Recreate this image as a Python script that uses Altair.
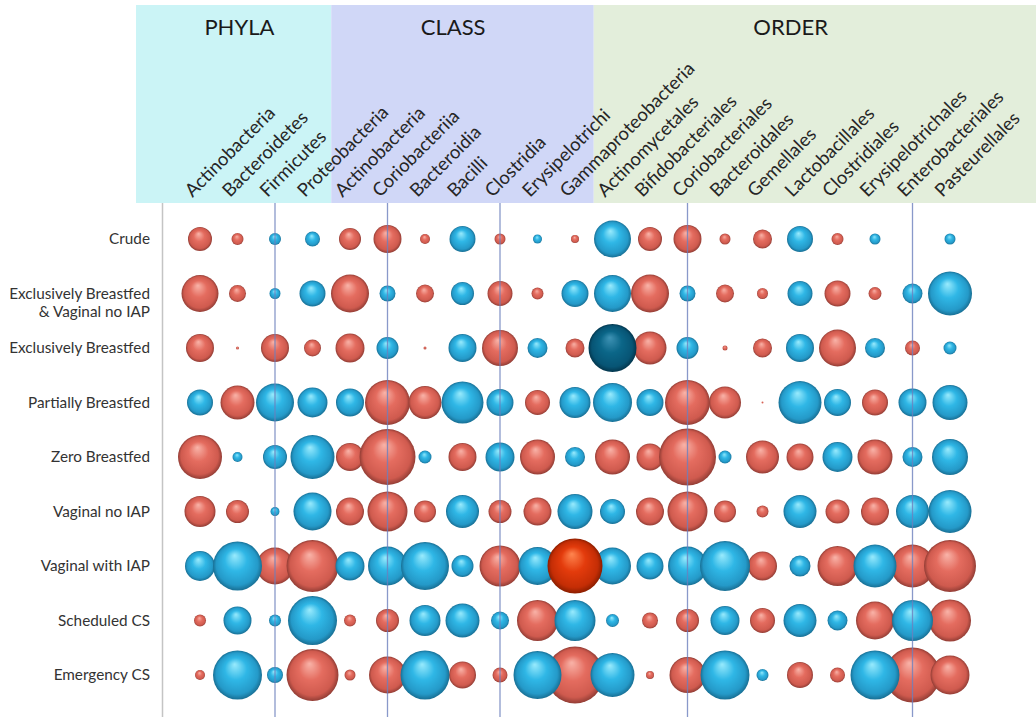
import altair as alt
import pandas as pd

# ---------------- data ----------------
rank_names = ["PHYLA", "CLASS", "ORDER"]
rank_counts = [4, 7, 10]

taxa = [
    "Actinobacteria", "Bacteroidetes", "Firmicutes", "Proteobacteria",
    "Actinobacteria", "Coriobacteriia", "Bacteroidia", "Bacilli", "Clostridia",
    "Erysipelotrichi", "Gammaproteobacteria",
    "Actinomycetales", "Bifidobacteriales", "Coriobacteriales", "Bacteroidales",
    "Gemellales", "Lactobacillales", "Clostridiales", "Erysipelotrichales",
    "Enterobacteriales", "Pasteurellales",
]

row_labels = [
    "Crude",
    "Exclusively Breastfed\n& Vaginal no IAP",
    "Exclusively Breastfed",
    "Partially Breastfed",
    "Zero Breastfed",
    "Vaginal no IAP",
    "Vaginal with IAP",
    "Scheduled CS",
    "Emergency CS",
]

# signed bubble magnitudes: positive = red (higher), negative = blue (lower), 0 = no bubble
crude   = [24, 12, -12, -15, 22, 28, 10, -26, 11, -9, 8, -37, 24, 28, 11, 19, -26, 12, -11, 0, -11]
ebf_vag = [37, 17, -11, -26, 38, -16, 18, -23, 25, 12, -27, -37, 38, -16, 18, 11, -25, 26, 13, -20, -44]
ebf     = [28, 3, 28, 17, 29, -22, 3, -28, 36, -20, 19, -48, 33, -22, 5, 19, -28, 37, -20, 15, -13]
partial = [-26, 34, -38, -30, -28, 45, 33, -42, -27, 25, -31, -39, -27, 45, 32, 2, -43, -27, 26, -28, -35]
zero_bf = [44, -10, -24, -44, 28, 56, -13, 28, -29, 35, -20, 35, 27, 57, -13, 33, 27, -30, 35, -20, -36]
vag_no  = [31, 23, -9, -38, 28, 40, 22, -33, 23, 28, -35, -25, 28, 40, 22, 12, -33, 24, 28, -33, -43]
vag_iap = [-30, -49, 37, 52, -29, -39, -48, -22, 41, -38, 55, -37, -27, -39, -50, 29, -21, 40, -43, 43, 52]
sched   = [12, -28, -12, -49, 12, 23, -31, -34, -18, 41, -41, -13, 16, 23, -29, 25, -33, -20, 38, -41, 42]
emerg   = [10, -49, -16, 52, 11, 37, -49, 27, 15, -48, 57, -44, 8, 36, -49, -12, 26, 15, -49, 55, 39]
values = [crude, ebf_vag, ebf, partial, zero_bf, vag_no, vag_iap, sched, emerg]

# highlighted cells (row index, column number)
highlights = {(2, 12): "dark", (6, 11): "bright"}

# vertical reference lines (column numbers); 0 is the left edge
grid_cols = [3, 6, 9, 14, 20]

# ---------------- layout ----------------
X_LO, X_HI = -0.7067, 23.2933
Y_LO, Y_HI = -4.2936, 8.7706
title_at = [2.05, 7.75, 16.75]
FONT = "Lato"

xs = alt.Scale(domain=[X_LO, X_HI], nice=False, zero=False)
ys = alt.Scale(domain=[Y_LO, Y_HI], nice=False, zero=False, reverse=True)


def sphere(light, base, mid, dark):
    return {
        "gradient": "radial",
        "x1": 0.44, "y1": 0.28, "r1": 0.0,
        "x2": 0.5, "y2": 0.5, "r2": 0.5,
        "stops": [
            {"offset": 0.0, "color": light},
            {"offset": 0.45, "color": base},
            {"offset": 0.85, "color": mid},
            {"offset": 1.0, "color": dark},
        ],
    }


G_RED = sphere("#f9b4a9", "#e46c5f", "#cf5a4e", "#923d35")
G_BLUE = sphere("#9aebfd", "#2fb7e6", "#2499c8", "#186f94")
G_DARK = sphere("#3f93b5", "#0b6688", "#075474", "#03364d")
G_BRIGHT = sphere("#ff8650", "#e33b0c", "#c42d05", "#8a1e00")

# ---------------- tables ----------------
recs = []
for r, vals in enumerate(values):
    for c, v in enumerate(vals, start=1):
        if v == 0:
            continue
        kind = "pos" if v > 0 else "neg"
        kind = highlights.get((r, c), kind)
        layer = {"pos": 0, "neg": 1}.get(kind, 2)
        recs.append({"row": r, "col": c, "mag": abs(v), "kind": kind,
                     "draw": layer * 100 + c})
bubbles_df = pd.DataFrame(recs)

starts, ends, first = [], [], 1
for n in rank_counts:
    starts.append(first - 0.5)
    ends.append(first + n - 0.5)
    first += n
starts[0] = X_LO
ends[-1] = X_HI
bands_df = pd.DataFrame({"rank": rank_names, "x0": starts, "x1": ends, "tx": title_at})

taxa_df = pd.DataFrame({"col": list(range(1, len(taxa) + 1)), "name": taxa})
taxa_df["lx"] = taxa_df["col"] - 0.2

rows_df = pd.DataFrame({"row": list(range(len(row_labels))), "label": row_labels})
grid_df = pd.DataFrame({"col": grid_cols})
edge_df = pd.DataFrame({"col": [0]})

# ---------------- layers ----------------
bands = alt.Chart(bands_df).mark_rect().encode(
    x=alt.X("x0:Q", scale=xs, axis=None),
    x2="x1:Q",
    y=alt.value(0),
    y2=alt.value(198),
    fill=alt.Fill("rank:N", scale=alt.Scale(domain=rank_names,
                  range=["#cbf4f6", "#d0d7f7", "#e3eedb"]), legend=None),
)

titles = alt.Chart(bands_df).mark_text(
    font=FONT, fontSize=22, color="#1a1a1a", baseline="middle", align="center"
).encode(x=alt.X("tx:Q", scale=xs, axis=None), y=alt.value(23), text="rank:N")

col_labels = alt.Chart(taxa_df).mark_text(
    font=FONT, fontSize=18.5, color="#262626", angle=315, align="left",
    baseline="alphabetic"
).encode(x=alt.X("lx:Q", scale=xs, axis=None), y=alt.value(193), text="name:N")

edge = alt.Chart(edge_df).mark_rule(color="#c4c4c4", strokeWidth=1.5).encode(
    x=alt.X("col:Q", scale=xs, axis=None), y=alt.value(198), y2=alt.value(712)
)

fill_def = {
    "condition": [
        {"test": "datum.kind === 'pos'", "value": G_RED},
        {"test": "datum.kind === 'dark'", "value": G_DARK},
        {"test": "datum.kind === 'bright'", "value": G_BRIGHT},
    ],
    "value": G_BLUE,
}

bubbles = alt.Chart(bubbles_df).mark_circle(opacity=1, strokeWidth=0).encode(
    x=alt.X("col:Q", scale=xs, axis=None),
    y=alt.Y("row:Q", scale=ys, axis=None),
    size=alt.Size("mag:Q", scale=alt.Scale(type="pow", exponent=2, domain=[0, 60],
                  range=[0, 3600]), legend=None),
    fill=fill_def,
    order=alt.Order("draw:Q"),
)

grid = alt.Chart(grid_df).mark_rule(color="#6c7fbd", strokeWidth=1.3, opacity=0.8).encode(
    x=alt.X("col:Q", scale=xs, axis=None), y=alt.value(198), y2=alt.value(712)
)

row_text = alt.Chart(rows_df).mark_text(
    font=FONT, fontSize=15.3, color="#333333", align="right", baseline="middle",
    lineBreak="\n", lineHeight=18
).encode(x=alt.value(14), y=alt.Y("row:Q", scale=ys, axis=None), text="label:N")

chart = alt.layer(bands, titles, col_labels, edge, bubbles, grid, row_text).properties(
    width=900, height=712,
    padding={"left": 136, "top": 5, "right": 0, "bottom": 0},
    autosize=alt.AutoSizeParams(type="none"),
    background="white",
).configure_view(stroke=None)

chart.save("out.html", embed_options={"renderer": "svg", "actions": False})
